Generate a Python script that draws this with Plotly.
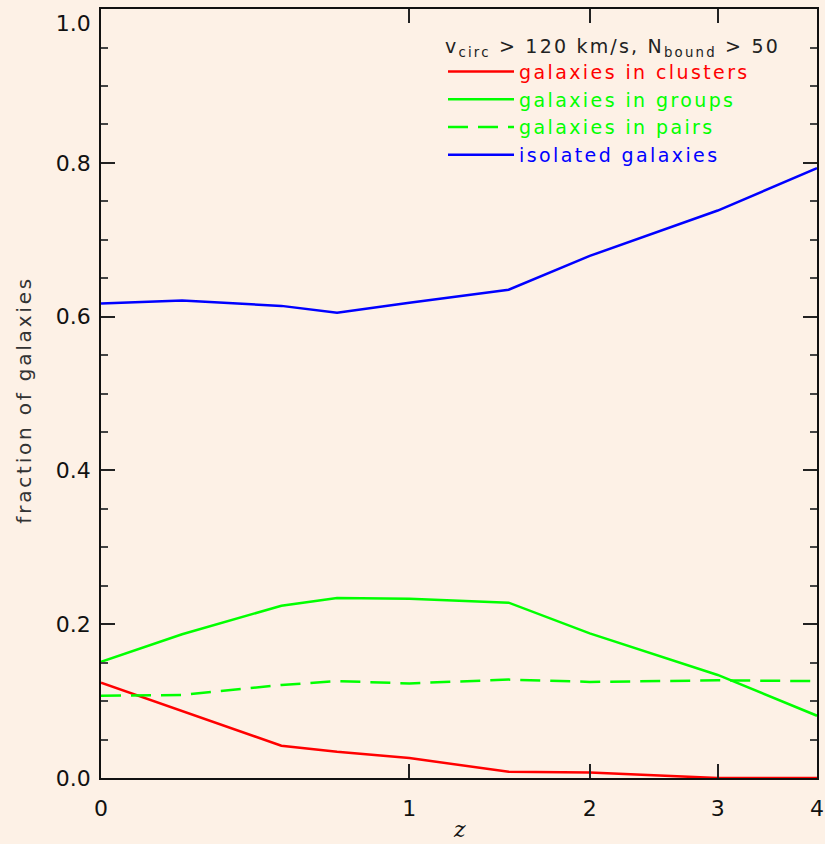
import plotly.graph_objects as go

# redshift grid
z = [0.0, 0.2, 0.5, 0.7, 1.0, 1.5, 2.0, 3.0, 4.0]
clusters = [0.124, 0.087, 0.042, 0.034, 0.026, 0.008, 0.007, 0.0, 0.0]
groups = [0.151, 0.187, 0.224, 0.234, 0.233, 0.228, 0.188, 0.134, 0.081]
pairs = [0.107, 0.108, 0.121, 0.126, 0.123, 0.128, 0.125, 0.127, 0.126]
isolated = [0.617, 0.621, 0.614, 0.605, 0.618, 0.635, 0.679, 0.738, 0.793]

x_ticks = [0, 1, 2, 3, 4]
x_ticklabels = ["0", "1", "2", "3", "4"]
y_ticks = [0.0, 0.2, 0.4, 0.6, 0.8, 1.0]
y_ticklabels = ["0.0", "0.2", "0.4", "0.6", "0.8", "1.0"]

BG = "#FDF1E6"
FONT = "DejaVu Sans"

opz = [1 + v for v in z]  # log(1+z) axis


def spaced(text, px):
    return f'<span style="letter-spacing:{px}px">{text}</span>'


# top label sits just inside the frame, as in the original
y_ticktext = [("<br>" + t if v == max(y_ticks) else t) for v, t in zip(y_ticks, y_ticklabels)]

fig = go.Figure()
series = [
    ("galaxies in clusters", clusters, "#FF0000", "solid"),
    ("galaxies in groups", groups, "#00FF00", "solid"),
    ("galaxies in pairs", pairs, "#00FF00", "20px,10px"),
    ("isolated galaxies", isolated, "#0000FF", "solid"),
]
for name, vals, col, dash in series:
    fig.add_trace(go.Scatter(
        x=opz, y=vals, mode="lines",
        name=f'<span style="color:{col};letter-spacing:2.4px">{name}</span>',
        line=dict(color=col, width=2.5, dash=dash),
    ))

fig.update_layout(
    width=825, height=844,
    margin=dict(l=101, r=8, t=9, b=66),
    paper_bgcolor=BG, plot_bgcolor=BG,
    font=dict(family=FONT, size=22, color="#111111"),
    showlegend=True,
    legend=dict(
        x=(443 - 101) / 716, y=1 - (28 - 9) / 769,
        xanchor="left", yanchor="top",
        bgcolor="rgba(0,0,0,0)",
        font=dict(family=FONT, size=19),
        title=dict(text=spaced("v<sub>circ</sub> > 120 km/s, N<sub>bound</sub> > 50", 2.2),
                   font=dict(family=FONT, size=19, color="#222222")),
        itemwidth=66,
        traceorder="normal",
        tracegroupgap=0,
    ),
    annotations=[dict(
        text="z", xref="paper", yref="paper", x=0.5, y=0,
        xanchor="center", yanchor="bottom", yshift=-66, showarrow=False,
        font=dict(family="DejaVu Serif", size=22, style="italic", color="#111111"),
    )],
)

fig.update_xaxes(
    type="log",
    range=[0, 0.69897],
    tickmode="array",
    tickvals=[1 + t for t in x_ticks],
    ticktext=x_ticklabels,
    ticks="inside", ticklen=14, tickwidth=1.5, tickcolor="#222222",
    showline=True, linecolor="#111111", linewidth=1.5,
    mirror="allticks",
    showgrid=False, zeroline=False,
    automargin=False,
    ticklabelstandoff=10,
)
fig.update_yaxes(
    range=[0, 1.0001],
    tickmode="array",
    tickvals=y_ticks,
    ticktext=y_ticktext,
    ticks="inside", ticklen=14, tickwidth=1.5, tickcolor="#222222",
    minor=dict(ticks="inside", ticklen=7, dtick=0.05, tickwidth=1.5, tickcolor="#444444", showgrid=False),
    showline=True, linecolor="#111111", linewidth=1.5,
    mirror="allticks",
    showgrid=False, zeroline=False,
    automargin=False,
    ticklabelstandoff=4,
    ticklabeloverflow="allow",
    title=dict(text=spaced("fraction of galaxies", 2.8) + "&nbsp;&nbsp;",
               font=dict(family=FONT, size=20, color="#333333"), standoff=19),
)

fig.write_html(
    "out.html",
    config={"displayModeBar": False},
    post_script=f"document.body.style.margin='0';document.body.style.background='{BG}';",
)
